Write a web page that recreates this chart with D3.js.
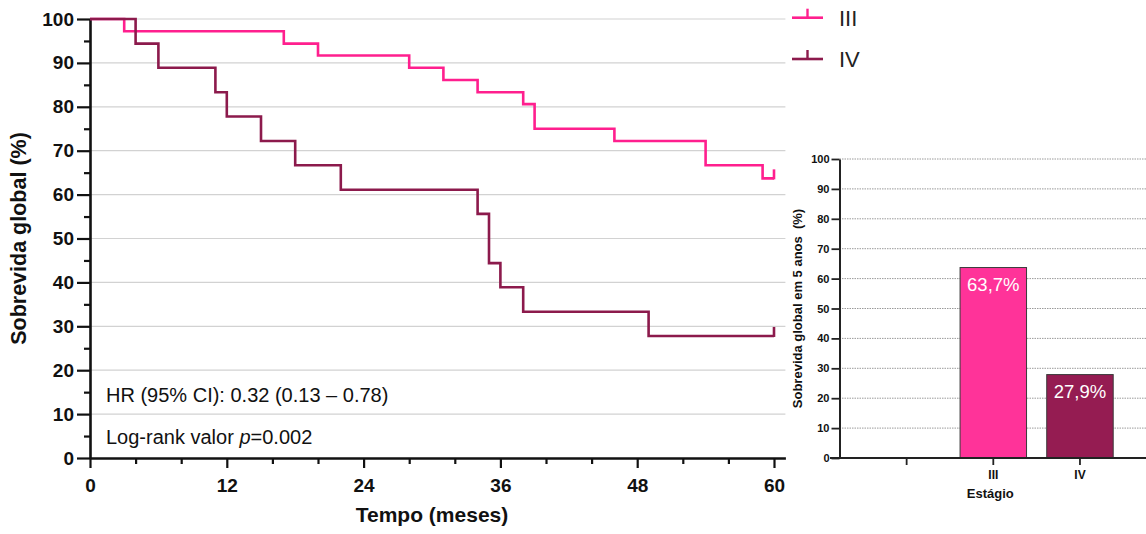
<!DOCTYPE html>
<html>
<head>
<meta charset="utf-8">
<script src="https://cdn.jsdelivr.net/npm/d3@7"></script>
<style>
  html, body { margin: 0; padding: 0; background: #fff; }
  svg { display: block; font-family: "Liberation Sans", Arial, sans-serif; }
</style>
</head>
<body>
<svg id="chart" width="1146" height="534"></svg>
<script>
// ---------- DATA ----------
const seriesNames = ["III", "IV"];
const timesIII = [0, 3, 17, 20, 28, 31, 34, 38, 39, 46, 54, 59, 60];
const survIII  = [100, 97.2, 94.4, 91.7, 88.9, 86.1, 83.3, 80.6, 75.0, 72.2, 66.7, 63.7, 63.7];
const timesIV  = [0, 4, 6, 11, 12, 15, 18, 22, 34, 35, 36, 38, 49, 60];
const survIV   = [100, 94.4, 88.9, 83.3, 77.8, 72.2, 66.7, 61.1, 55.6, 44.4, 38.9, 33.3, 27.8, 27.8];
const xTickValues = [0, 12, 24, 36, 48, 60];
const yTickValues = [0, 10, 20, 30, 40, 50, 60, 70, 80, 90, 100];
const barCategories = ["", "III", "IV"];
const barValues = [null, 63.7, 27.9];
const barLabels = ["", "63,7%", "27,9%"];
const hrText = "HR (95% CI): 0.32 (0.13 \u2013 0.78)";

// ---------- STYLE ----------
const colIII = "#ff1f8e", colIV = "#8c1a4c";
const barColIII = "#ff3399", barColIV = "#951c52";

const svg = d3.select("#chart");

// ================= LEFT: KM chart =================
const x = d3.scaleLinear().domain([0, 61]).range([90, 785.4]);
const y = d3.scaleLinear().domain([0, 100]).range([458, 19]);

// gridlines
svg.append("g").selectAll("line")
  .data(yTickValues.filter(d => d > 0))
  .join("line")
  .attr("x1", x(0)).attr("x2", x(61))
  .attr("y1", d => y(d)).attr("y2", d => y(d))
  .attr("stroke", "#d2d2d2").attr("stroke-width", 1.2);

// minor ticks y
svg.append("g").attr("transform", `translate(${x(0)},0)`)
  .call(d3.axisLeft(y).tickValues(d3.range(5, 100, 10)).tickSize(6).tickFormat(""))
  .call(g => g.select(".domain").remove())
  .call(g => g.selectAll("line").attr("stroke", "#111").attr("stroke-width", 2.2));
// minor ticks x
svg.append("g").attr("transform", `translate(0,${y(0)})`)
  .call(d3.axisBottom(x).tickValues(d3.range(4, 60, 4).filter(d => d % 12 !== 0)).tickSize(6).tickFormat(""))
  .call(g => g.select(".domain").remove())
  .call(g => g.selectAll("line").attr("stroke", "#111").attr("stroke-width", 2.2));

// y axis
svg.append("g").attr("transform", `translate(${x(0)},0)`)
  .call(d3.axisLeft(y).tickValues(yTickValues).tickSize(13).tickPadding(3).tickSizeOuter(0))
  .call(g => g.select(".domain").attr("stroke", "#111").attr("stroke-width", 2.6))
  .call(g => g.selectAll(".tick line").attr("stroke", "#111").attr("stroke-width", 2.2))
  .call(g => g.selectAll("text").attr("fill", "#111")
      .style("font-size", "19px").style("font-weight", "bold"));

// x axis
svg.append("g").attr("transform", `translate(0,${y(0)})`)
  .call(d3.axisBottom(x).tickValues(xTickValues).tickSize(10).tickPadding(11).tickSizeOuter(0))
  .call(g => g.select(".domain").attr("stroke", "#111").attr("stroke-width", 2.6))
  .call(g => g.selectAll(".tick line").attr("stroke", "#111").attr("stroke-width", 2.2))
  .call(g => g.selectAll("text").attr("fill", "#111")
      .style("font-size", "19px").style("font-weight", "bold"));

// axis titles
svg.append("text")
  .attr("x", x(30)).attr("y", 522)
  .attr("text-anchor", "middle")
  .style("font-size", "21px").style("font-weight", "bold").attr("fill", "#111")
  .text("Tempo (meses)");
svg.append("text")
  .attr("transform", `translate(26,${y(50)}) rotate(-90)`)
  .attr("text-anchor", "middle")
  .style("font-size", "21.5px").style("font-weight", "bold").attr("fill", "#111")
  .text("Sobrevida global (%)");

// step curves
const series = [
  { name: seriesNames[0], t: timesIII, s: survIII, color: colIII },
  { name: seriesNames[1], t: timesIV, s: survIV, color: colIV }
];
const stepLine = d3.line().curve(d3.curveStepAfter)
  .x(d => x(d[0])).y(d => y(d[1]));
series.forEach(sr => {
  const pts = sr.t.map((t, i) => [t, sr.s[i]]);
  svg.append("path").datum(pts)
    .attr("d", stepLine)
    .attr("fill", "none").attr("stroke", sr.color).attr("stroke-width", 2.6);
  const last = pts[pts.length - 1];
  svg.append("line")
    .attr("x1", x(last[0])).attr("x2", x(last[0]))
    .attr("y1", y(last[1]) + 1).attr("y2", y(last[1]) - 9)
    .attr("stroke", sr.color).attr("stroke-width", 2.6);
});

// annotations
svg.append("text").attr("x", 106).attr("y", 401.5)
  .style("font-size", "20px").attr("fill", "#111").style("white-space", "pre")
  .text(hrText);
const lr = svg.append("text").attr("x", 106).attr("y", 444)
  .style("font-size", "20px").attr("fill", "#111");
lr.append("tspan").text("Log-rank valor ");
lr.append("tspan").style("font-style", "italic").text("p");
lr.append("tspan").text("=0.002");

// legend
const legend = svg.append("g");
series.forEach((sr, i) => {
  const gy = [17.7, 59][i];
  const g = legend.append("g").attr("transform", `translate(792,${gy})`);
  g.append("line").attr("x1", 0).attr("x2", 31).attr("y1", 0).attr("y2", 0)
    .attr("stroke", sr.color).attr("stroke-width", 2.6);
  g.append("line").attr("x1", 15.5).attr("x2", 15.5).attr("y1", 0).attr("y2", -9)
    .attr("stroke", sr.color).attr("stroke-width", 2.4);
  g.append("text").attr("x", 47).attr("y", 8)
    .style("font-size", "22px").attr("fill", "#222").text(sr.name);
});

// ================= RIGHT: bar chart =================
const yb = d3.scaleLinear().domain([0, 100]).range([458, 159]);
const xb = d3.scaleBand().domain(barCategories).range([863.3, 1123.3])
  .paddingInner(0.233).paddingOuter(0.1165);
const barLeft = 839.5;

// dotted gridlines
svg.append("g").selectAll("line")
  .data(yTickValues.filter(d => d > 0))
  .join("line")
  .attr("x1", barLeft).attr("x2", 1146)
  .attr("y1", d => yb(d)).attr("y2", d => yb(d))
  .attr("stroke", "#9a9a9a").attr("stroke-width", 1).attr("stroke-dasharray", "1.5,1");

// bars
const barData = barCategories.map((c, i) => ({ c, v: barValues[i], label: barLabels[i] }))
  .filter(d => d.v != null);
svg.append("g").selectAll("rect").data(barData).join("rect")
  .attr("x", d => xb(d.c)).attr("width", xb.bandwidth())
  .attr("y", d => yb(d.v)).attr("height", d => yb(0) - yb(d.v))
  .attr("fill", (d, i) => [barColIII, barColIV][i])
  .attr("stroke", "#3a3a3a").attr("stroke-width", 1);
svg.append("g").selectAll("text").data(barData).join("text")
  .attr("x", d => xb(d.c) + xb.bandwidth() / 2)
  .attr("y", d => yb(d.v) + 23)
  .attr("text-anchor", "middle")
  .style("font-size", "18.5px").attr("fill", "#fff")
  .text(d => d.label);

// bar y axis
svg.append("g").attr("transform", `translate(${barLeft},0)`)
  .call(d3.axisLeft(yb).tickValues(yTickValues).tickSize(8).tickPadding(2).tickSizeOuter(0))
  .call(g => g.select(".domain").attr("stroke", "#222").attr("stroke-width", 2))
  .call(g => g.selectAll(".tick line").attr("stroke", "#222").attr("stroke-width", 1.8))
  .call(g => g.selectAll("text").attr("fill", "#111")
      .style("font-size", "11px").style("font-weight", "bold"));

// bar x axis
svg.append("line").attr("x1", 830).attr("x2", 1146)
  .attr("y1", yb(0)).attr("y2", yb(0))
  .attr("stroke", "#222").attr("stroke-width", 2);
svg.append("g").attr("transform", `translate(0,${yb(0)})`)
  .call(d3.axisBottom(xb).tickSize(7).tickPadding(5).tickSizeOuter(0))
  .call(g => g.select(".domain").remove())
  .call(g => g.selectAll(".tick line").attr("stroke", "#222").attr("stroke-width", 1.8))
  .call(g => g.selectAll("text").attr("fill", "#111")
      .style("font-size", "12px").style("font-weight", "bold"));

svg.append("text")
  .attr("x", xb("III") + xb.bandwidth() / 2 - 3).attr("y", 498)
  .attr("text-anchor", "middle")
  .style("font-size", "13px").style("font-weight", "bold").attr("fill", "#111")
  .text("Est\u00e1gio");
svg.append("text")
  .attr("transform", `translate(802,${yb(50)}) rotate(-90)`)
  .attr("text-anchor", "middle").style("white-space", "pre")
  .style("font-size", "13px").style("font-weight", "bold").attr("fill", "#111")
  .text("Sobrevida global em 5 anos  (%)");
</script>
</body>
</html>
